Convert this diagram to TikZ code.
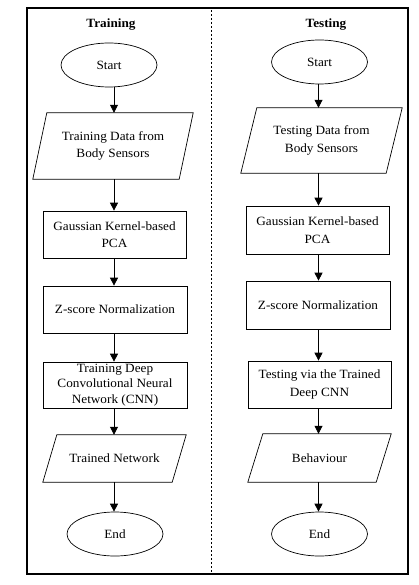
\documentclass[tikz,border=0pt]{standalone}
\usepackage{fontspec}
\setmainfont[FakeStretch=1.05]{Liberation Serif}
\usetikzlibrary{arrows.meta,shapes.geometric}
\begin{document}
\begin{tikzpicture}[x=1pt,y=-1pt,
  every node/.style={font=\fontsize{12.6}{17.5}\selectfont, align=center, inner sep=0pt},
  box/.style={draw, line width=0.7pt, rectangle},
  io/.style={rectangle},
  term/.style={draw, line width=0.7pt, ellipse, minimum width=96pt, minimum height=44pt},
  title/.style={font=\fontsize{12.6}{15}\selectfont\bfseries},
  arr/.style={line width=0.8pt, -{Triangle[length=8pt,width=8pt]}},
  para/.style={draw, line width=0.7pt}]
\useasboundingbox (0,0) rectangle (419,585);
% frame
\draw[line width=1.2pt] (27,8) rectangle (408,574);
\draw[line width=0.8pt, dash pattern=on 2pt off 2pt] (211,10) -- (211,573);
% titles
\node[title] (tL) at (111,25) {Training};
\node[title] (tR) at (326,25) {Testing};
% column axes
\coordinate (cL) at (114,0);
\coordinate (cR) at (318.5,0);
% left column
\node[term] (sL) at (109,65) {Start};
\node[io, minimum width=160pt, minimum height=66pt] (dL) at (113,146) {Training Data from\\Body Sensors};
\draw[para] ([xshift=14pt]dL.north west) -- (dL.north east) -- ([xshift=-14pt]dL.south east) -- (dL.south west) -- cycle;
\node[box, minimum width=143pt, minimum height=47pt] (gL) at (114.5,234.5) {Gaussian Kernel-based\\PCA};
\node[box, minimum width=144pt, minimum height=47pt] (zL) at (115,309.5) {Z-score Normalization};
\node[box, minimum width=144pt, minimum height=46pt, font=\fontsize{12.6}{15.6}\selectfont] (nL) at (115,385) {Training Deep\\Convolutional Neural\\Network (CNN)};
\node[io, minimum width=143pt, minimum height=47pt] (oL) at (114.5,458.5) {Trained Network};
\draw[para] ([xshift=14pt]oL.north west) -- (oL.north east) -- ([xshift=-14pt]oL.south east) -- (oL.south west) -- cycle;
\node[term] (eL) at (115,534) {End};
\draw[arr] (sL.south -| cL) -- (dL.north -| cL);
\draw[arr] (dL.south -| cL) -- (gL.north -| cL);
\draw[arr] (gL.south -| cL) -- (zL.north -| cL);
\draw[arr] (zL.south -| cL) -- (nL.north -| cL);
\draw[arr] (nL.south -| cL) -- (oL.north -| cL);
\draw[arr] (oL.south -| cL) -- (eL.north -| cL);
% right column
\node[term] (sR) at (319.5,62) {Start};
\node[io, minimum width=161pt, minimum height=65pt] (dR) at (321.5,140.5) {Testing Data from\\Body Sensors};
\draw[para] ([xshift=16pt]dR.north west) -- (dR.north east) -- ([xshift=-16pt]dR.south east) -- (dR.south west) -- cycle;
\node[box, minimum width=143pt, minimum height=48pt] (gR) at (317.5,230) {Gaussian Kernel-based\\PCA};
\node[box, minimum width=144pt, minimum height=48pt] (zR) at (318,305) {Z-score Normalization};
\node[box, minimum width=143pt, minimum height=47pt] (nR) at (319.5,384.5) {Testing via the Trained\\Deep CNN};
\node[io, minimum width=143pt, minimum height=48pt] (oR) at (319.5,458) {Behaviour};
\draw[para] ([xshift=15pt]oR.north west) -- (oR.north east) -- ([xshift=-15pt]oR.south east) -- (oR.south west) -- cycle;
\node[term] (eR) at (319.5,534) {End};
\draw[arr] (sR.south -| cR) -- (dR.north -| cR);
\draw[arr] (dR.south -| cR) -- (gR.north -| cR);
\draw[arr] (gR.south -| cR) -- (zR.north -| cR);
\draw[arr] (zR.south -| cR) -- (nR.north -| cR);
\draw[arr] (nR.south -| cR) -- (oR.north -| cR);
\draw[arr] (oR.south -| cR) -- (eR.north -| cR);
\end{tikzpicture}
\end{document}
